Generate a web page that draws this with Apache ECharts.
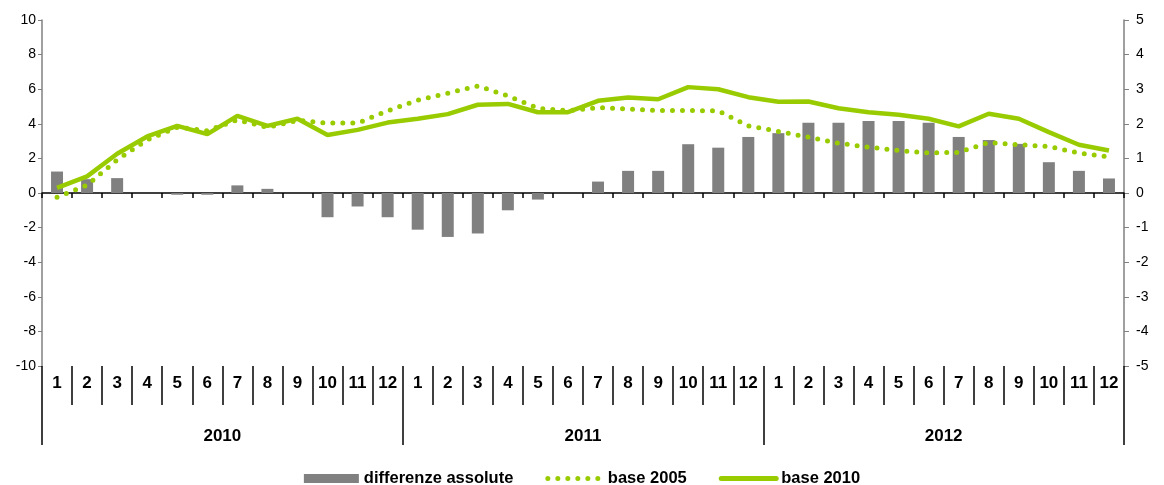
<!DOCTYPE html>
<html>
<head>
<meta charset="utf-8">
<script src="https://cdn.jsdelivr.net/npm/echarts@6/dist/echarts.min.js"></script>
<style>
html,body{margin:0;padding:0;background:#fff;}
#chart{width:1164px;height:485px;}
</style>
</head>
<body>
<div id="chart"></div>
<script>
const months = ['1','2','3','4','5','6','7','8','9','10','11','12',
                '1','2','3','4','5','6','7','8','9','10','11','12',
                '1','2','3','4','5','6','7','8','9','10','11','12'];
const years = ['2010','2011','2012'];
const differenzeAssolute = [0.62, 0.40, 0.43, 0, -0.05, -0.05, 0.22, 0.12, 0, -0.70, -0.39, -0.70,
  -1.06, -1.27, -1.17, -0.50, -0.19, 0, 0.33, 0.64, 0.64, 1.41, 1.31, 1.62,
  1.73, 2.03, 2.03, 2.08, 2.08, 2.03, 1.62, 1.53, 1.42, 0.89, 0.64, 0.42];
const base2005 = [-0.25, 0.45, 1.92, 3.07, 3.80, 3.60, 4.23, 3.79, 4.20, 4.04, 4.04, 4.75,
  5.37, 5.77, 6.19, 5.61, 4.90, 4.75, 4.94, 4.86, 4.77, 4.77, 4.75, 3.88,
  3.56, 3.23, 2.88, 2.65, 2.46, 2.31, 2.35, 2.92, 2.79, 2.69, 2.31, 2.08];
const base2010 = [0.30, 0.96, 2.27, 3.27, 3.88, 3.40, 4.46, 3.88, 4.29, 3.35, 3.65, 4.07,
  4.29, 4.56, 5.10, 5.15, 4.67, 4.67, 5.33, 5.52, 5.42, 6.12, 6.00, 5.54,
  5.27, 5.29, 4.90, 4.67, 4.52, 4.29, 3.85, 4.58, 4.29, 3.52, 2.79, 2.46];

const FONT = "'Liberation Sans Narrow','Arial Narrow','Liberation Sans',Arial,sans-serif";
const GREEN = '#99CC00';
const GRAY = '#808080';

const chart = echarts.init(document.getElementById('chart'), null, {renderer: 'canvas'});
chart.setOption({
  animation: false,
  backgroundColor: '#fff',
  grid: {left: 42, right: 40, top: 20, bottom: 119, containLabel: false},
  legend: {
    top: 465,
    left: 'center',
    itemWidth: 55,
    itemHeight: 9,
    itemGap: 32,
    textStyle: {fontFamily: FONT, fontWeight: 'bold', fontSize: 16.5, color: '#000'},
    data: [
      {name: 'differenze assolute', icon: 'rect'},
      {name: 'base 2005', itemStyle: {opacity: 0},
       lineStyle: {color: GREEN, width: 5, type: [0, 10], cap: 'round'}},
      {name: 'base 2010', itemStyle: {opacity: 0},
       lineStyle: {color: GREEN, width: 5, type: 'solid', cap: 'round'}}
    ]
  },
  xAxis: [
    {
      type: 'category', data: months, position: 'bottom', boundaryGap: true,
      axisLine: {show: false, onZero: false},
      axisTick: {show: true, interval: 0, length: 39, lineStyle: {color: '#000', width: 1.5}},
      axisLabel: {interval: 0, margin: 9, fontFamily: FONT, fontWeight: 'bold', fontSize: 17, color: '#000'},
      splitLine: {show: false}
    },
    {
      type: 'category', data: months, position: 'bottom', boundaryGap: true,
      axisLine: {show: true, onZero: true, onZeroAxisIndex: 0, lineStyle: {color: '#000', width: 1.5}},
      axisTick: {show: true, interval: 0, length: 5, lineStyle: {color: '#000', width: 1.5}},
      axisLabel: {show: false},
      splitLine: {show: false}
    },
    {
      type: 'category', data: years, position: 'bottom', boundaryGap: true,
      axisLine: {show: false, onZero: false},
      axisTick: {show: true, interval: 0, length: 79, lineStyle: {color: '#000', width: 1.5}},
      axisLabel: {interval: 0, margin: 62, fontFamily: FONT, fontWeight: 'bold', fontSize: 17, color: '#000'},
      splitLine: {show: false}
    }
  ],
  yAxis: [
    {
      type: 'value', position: 'left', min: -10, max: 10, interval: 2,
      axisLine: {show: true, lineStyle: {color: GRAY, width: 1.5}},
      axisTick: {show: true, length: 4, lineStyle: {color: GRAY}},
      axisLabel: {margin: 6, fontFamily: FONT, fontSize: 14, color: '#000'},
      splitLine: {show: false}
    },
    {
      type: 'value', position: 'right', min: -5, max: 5, interval: 1,
      axisLine: {show: true, lineStyle: {color: GRAY, width: 1.5}},
      axisTick: {show: true, length: 5, lineStyle: {color: GRAY}},
      axisLabel: {margin: 12, fontFamily: FONT, fontSize: 14, color: '#000'},
      splitLine: {show: false}
    }
  ],
  series: [
    {
      name: 'differenze assolute', type: 'bar', xAxisIndex: 0, yAxisIndex: 1,
      data: differenzeAssolute, barWidth: 12,
      itemStyle: {color: GRAY}, z: 2
    },
    {
      name: 'base 2005', type: 'line', xAxisIndex: 0, yAxisIndex: 0,
      data: base2005, symbol: 'none', smooth: false,
      itemStyle: {color: GREEN},
      lineStyle: {color: GREEN, width: 5, type: [0, 10], cap: 'round'}, z: 3
    },
    {
      name: 'base 2010', type: 'line', xAxisIndex: 0, yAxisIndex: 0,
      data: base2010, symbol: 'none', smooth: false,
      itemStyle: {color: GREEN},
      lineStyle: {color: GREEN, width: 4.5, type: 'solid'}, z: 4
    }
  ]
});
</script>
</body>
</html>
